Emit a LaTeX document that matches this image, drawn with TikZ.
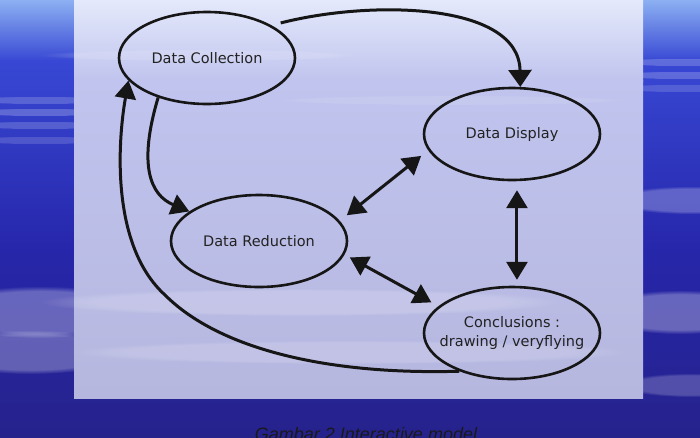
\documentclass[tikz,border=0pt]{standalone}
\usepackage{fontspec}
\setmainfont{DejaVu Sans}
\newfontfamily\capfont{Liberation Sans}
\usetikzlibrary{arrows.meta,shapes.geometric,fadings}
\definecolor{bgA}{HTML}{8CB0F2}
\definecolor{bgB}{HTML}{3848D4}
\definecolor{bgC}{HTML}{2626AA}
\definecolor{bgD}{HTML}{26228C}
\definecolor{pA}{HTML}{E4E9FB}
\definecolor{pB}{HTML}{C0C4EE}
\definecolor{pC}{HTML}{B0B0E0}
\definecolor{pD}{HTML}{B6B7DF}
\definecolor{ink}{HTML}{161616}
\definecolor{txt}{HTML}{222222}
\tikzset{
  ell/.style={ellipse, draw=ink, line width=2.6pt, inner sep=0pt,
    minimum width=176pt, minimum height=92pt, font=\fontsize{14.5}{19}\selectfont,
    text=txt, align=center},
  conn/.style={draw=ink, line width=3pt},
  tipA/.tip={Triangle[length=18pt,width=21pt]},
  cloud/.style={fill=white, path fading=circle with fuzzy edge 20 percent},
}
\begin{document}
\begin{tikzpicture}[x=1pt,y=-1pt]
\useasboundingbox (0,0) rectangle (700,437);
\clip (0,0) rectangle (700,437);
% sky background
\shade[top color=bgA, bottom color=bgB] (0,0) rectangle (700,61);
\shade[top color=bgB, bottom color=bgC] (0,60) rectangle (700,251);
\shade[top color=bgC, bottom color=bgD] (0,250) rectangle (700,437);
% cloud streaks outside
\foreach \yy/\op in {100/.18,112/.22,125/.18,140/.15}
  \fill[cloud, fill opacity=\op] (40,\yy) ellipse [x radius=80, y radius=4];
\fill[cloud, fill opacity=.30] (40,312) ellipse [x radius=110, y radius=26];
\fill[cloud, fill opacity=.28] (30,352) ellipse [x radius=100, y radius=22];
\foreach \yy/\op in {62/.2,75/.2,88/.15}
  \fill[cloud, fill opacity=\op] (680,\yy) ellipse [x radius=70, y radius=4];
\fill[cloud, fill opacity=.25] (690,200) ellipse [x radius=80, y radius=14];
\fill[cloud, fill opacity=.30] (680,312) ellipse [x radius=90, y radius=22];
\fill[cloud, fill opacity=.20] (690,385) ellipse [x radius=70, y radius=12];
% panel
\shade[top color=pA, bottom color=pB] (74,0) rectangle (643,81);
\shade[top color=pB, middle color=pC, bottom color=pD] (74,80) rectangle (643,398);
\fill[cloud, fill opacity=.12] (200,55) ellipse [x radius=160, y radius=6];
\fill[cloud, fill opacity=.10] (450,100) ellipse [x radius=180, y radius=5];
\fill[cloud, fill opacity=.16] (300,302) ellipse [x radius=260, y radius=14];
\fill[cloud, fill opacity=.14] (350,352) ellipse [x radius=280, y radius=12];
% nodes
\node[ell] (dc) at (207,58) {Data Collection};
\node[ell] (dd) at (512,134) {Data Display};
\node[ell] (dr) at (259,241) {Data Reduction};
\node[ell, inner xsep=-16pt] (co) at (512,333) {Conclusions :\\drawing / veryflying};
% connectors
\draw[conn, -{Triangle[length=17pt,width=23pt]}] ([xshift=8pt,yshift=3pt]dc.26) .. controls (370,0) and (519,2) .. (dd.80);
\draw[conn, -{tipA}] (dc.219) .. controls (138,165) and (150,195) .. (dr.157);
\draw[conn, -{tipA}] (co.216) .. controls (330,375) and (220,350) .. (165,295)
   .. controls (110,245) and (118,140) .. (dc.196);
\draw[conn, {tipA}-{tipA}, shorten <=9pt, shorten >=9pt] (dr.14) -- (dd.191);
\draw[conn, {tipA}-{tipA}, shorten <=6pt, shorten >=8pt] (dr.-9) -- (co.160);
\draw[conn, {tipA}-{tipA}, shorten <=9pt, shorten >=6pt] (dd.-84) -- (co.84);
% caption
\node[anchor=base, font=\capfont\itshape\fontsize{18}{20}\selectfont, text=black!90] (cap) at (366,440) {Gambar 2 Interactive model};
\end{tikzpicture}
\end{document}
